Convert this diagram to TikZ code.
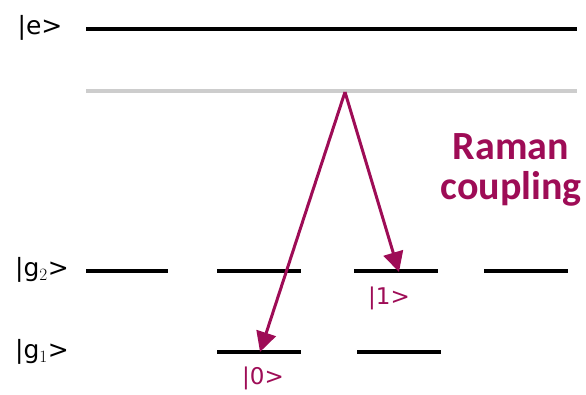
\documentclass[tikz,border=0pt]{standalone}
\usepackage{fontspec}
\setmainfont{Carlito}
\newfontfamily\handfont{DejaVu Sans}
\usetikzlibrary{arrows.meta}
\definecolor{raman}{RGB}{158,12,86}
\tikzset{
  level/.style={line width=3.4pt, black},
  virt/.style={line width=3.2pt, color={rgb,255:red,205;green,205;blue,205}},
  ramanarrow/.style={line width=3pt, raman, -{Triangle[length=20pt,width=20pt]}},
  statelabel/.style={font=\handfont\fontsize{25}{25}\selectfont, black},
  qlabel/.style={font=\handfont\fontsize{23}{23}\selectfont, raman},
}
\begin{document}
\begin{tikzpicture}[x=1pt,y=-1pt]
\useasboundingbox (0,0) rectangle (586,395);
% levels
\coordinate (e1) at (86,29); \coordinate (e2) at (577,29);
\draw[level] (e1) -- (e2);
\coordinate (v1) at (86,91); \coordinate (v2) at (577,91);
\draw[virt] (v1) -- (v2);
\coordinate (a1) at (86,271); \coordinate (a2) at (168,271);
\coordinate (b1) at (217,271); \coordinate (b2) at (301,271);
\coordinate (c1) at (354,271); \coordinate (c2) at (438,271);
\coordinate (d1) at (484,271); \coordinate (d2) at (568,271);
\draw[level] (a1) -- (a2);
\draw[level] (b1) -- (b2);
\draw[level] (c1) -- (c2);
\draw[level] (d1) -- (d2);
\coordinate (f1) at (217,352); \coordinate (f2) at (301,352);
\coordinate (h1) at (357,352); \coordinate (h2) at (441,352);
\draw[level] (f1) -- (f2);
\draw[level] (h1) -- (h2);
% labels
\node[statelabel] (le) at (40,28) {|e>};
\node[statelabel] (lg2) at (42,270) {|g$_2$>};
\node[statelabel] (lg1) at (42,352) {|g$_1$>};
\node[qlabel] (l0) at (263,378) {|0>};
\node[qlabel] (l1) at (389,298) {|1>};
\node[font=\bfseries\fontsize{40}{40}\selectfont, raman, align=center] (rc) at (511,170) {Raman\\coupling};
% arrows
\coordinate (top) at (345,92);
\coordinate (t0) at (260,352);
\coordinate (t1) at (399,272);
\draw[ramanarrow] (top) -- (t0);
\draw[ramanarrow] (top) -- (t1);
\end{tikzpicture}
\end{document}
